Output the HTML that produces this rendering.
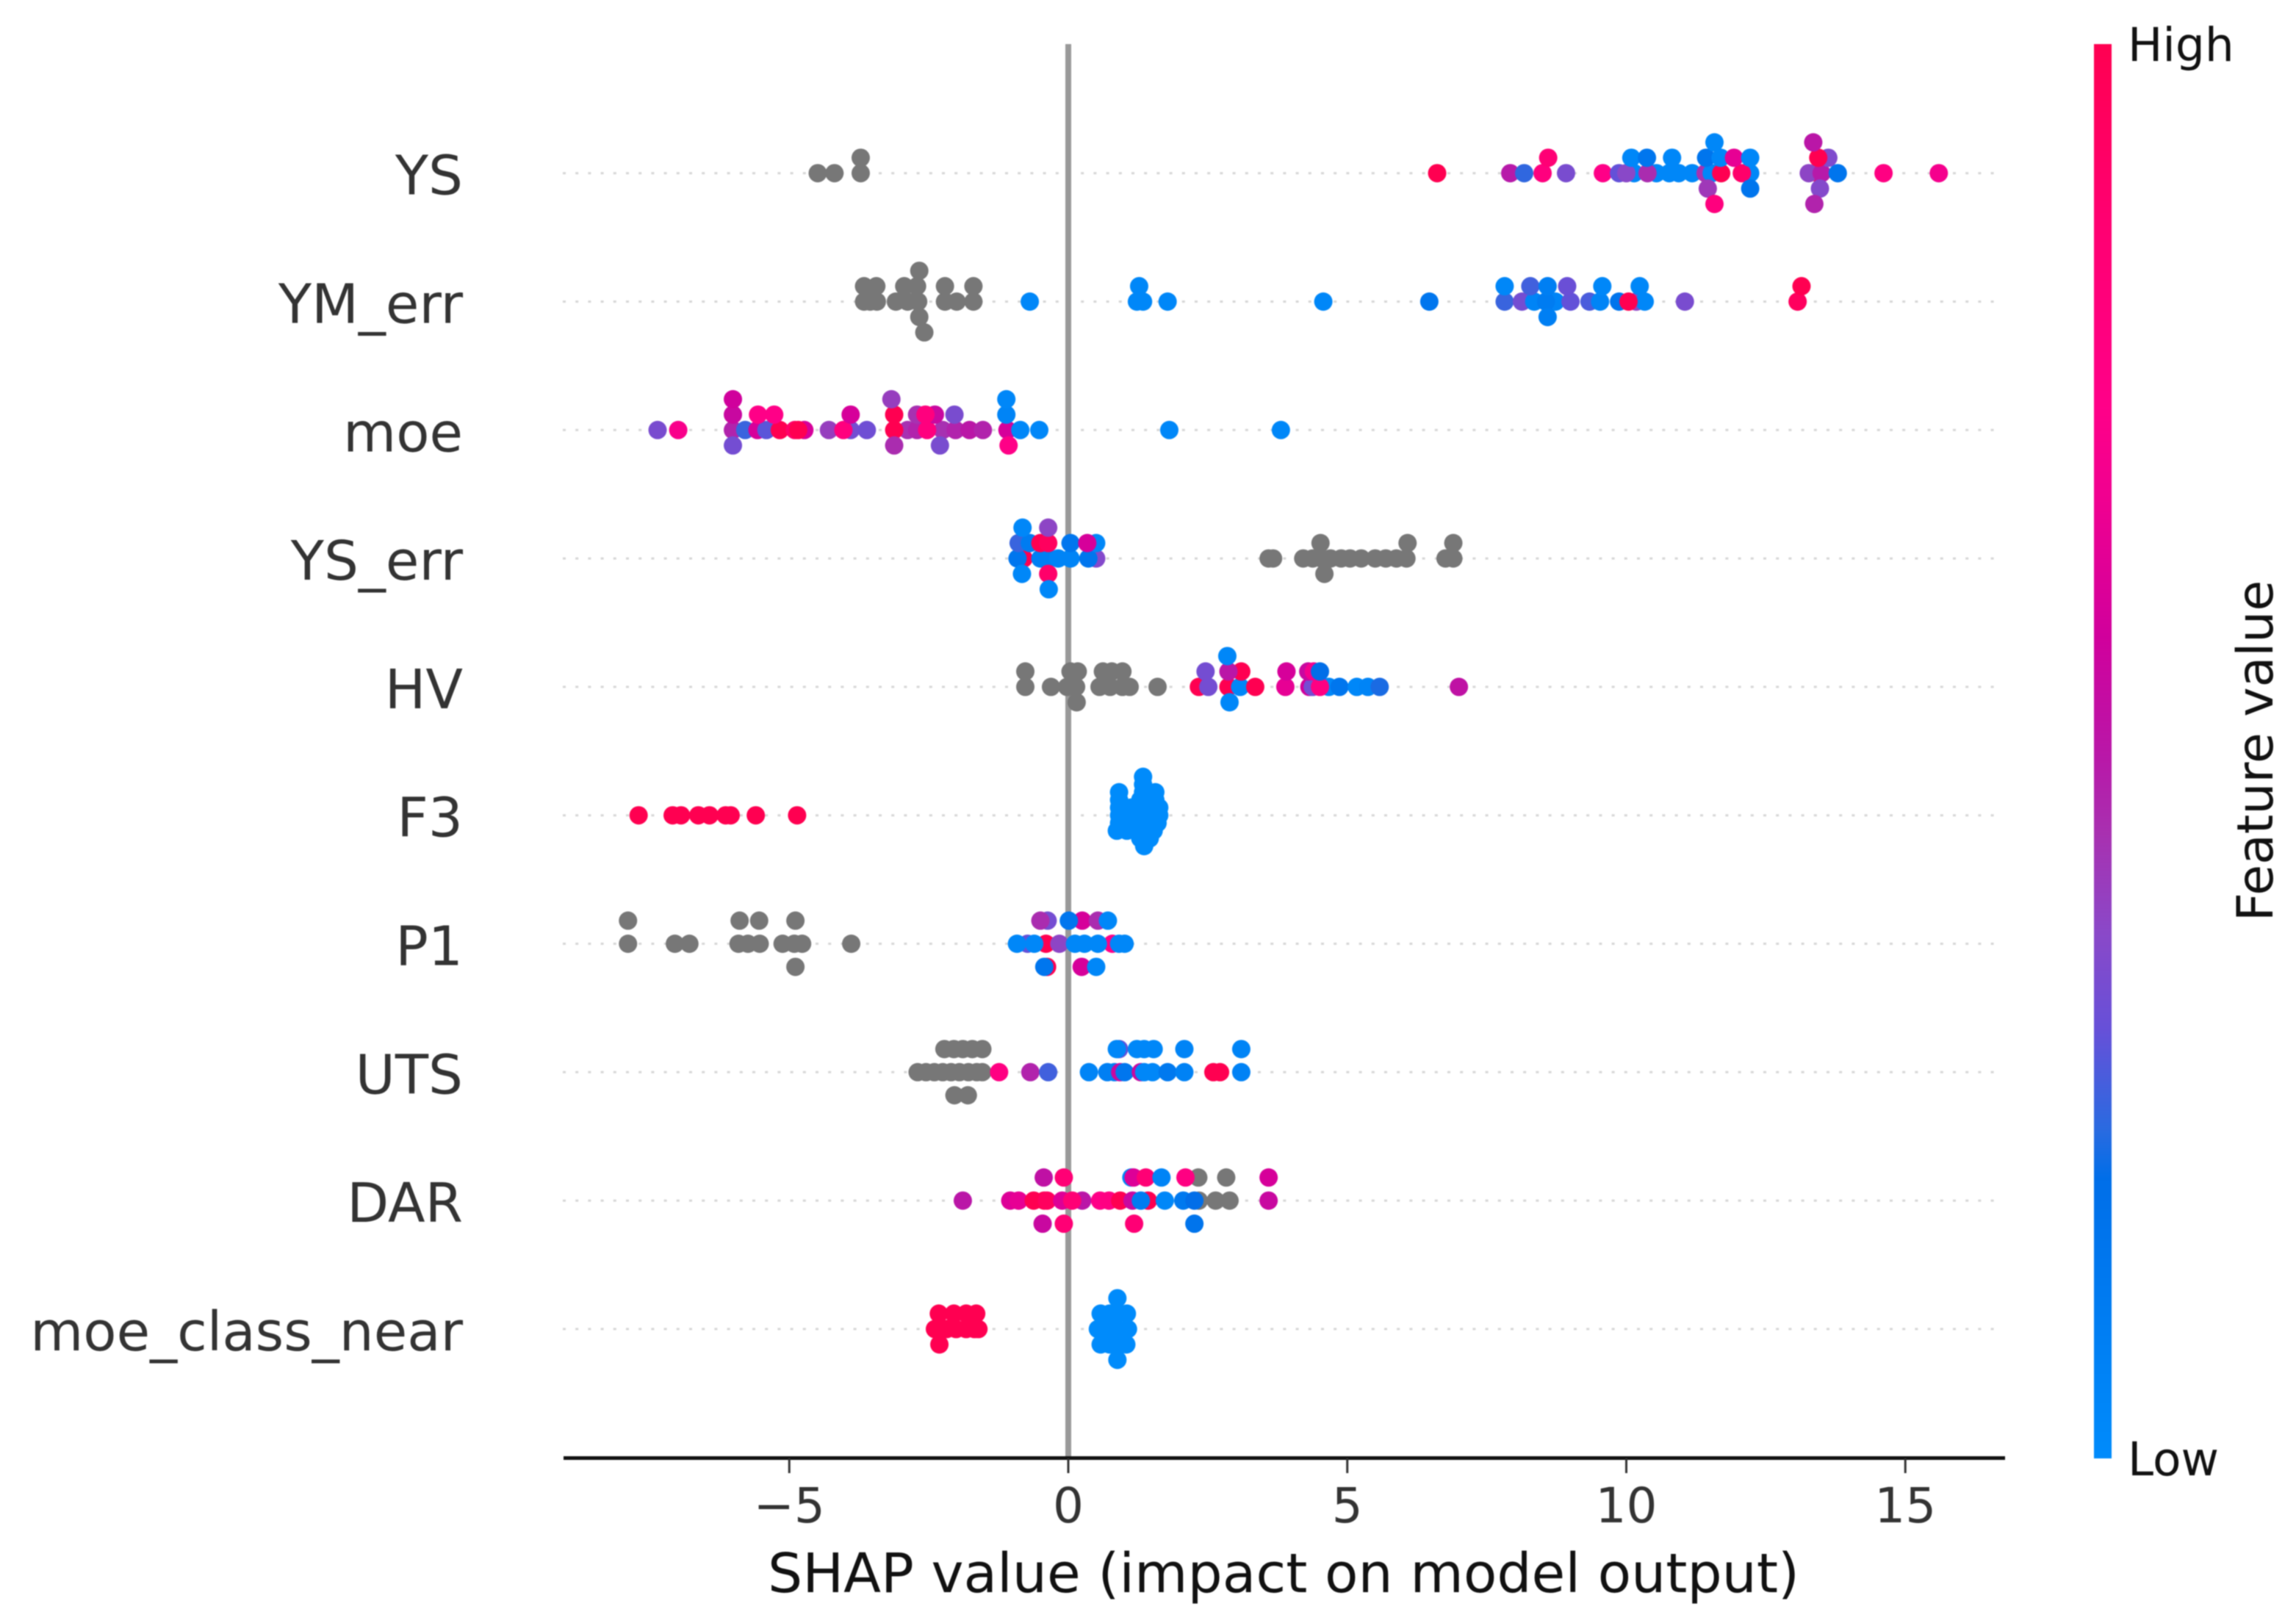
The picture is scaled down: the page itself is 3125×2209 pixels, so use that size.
<!DOCTYPE html>
<html lang="en">
<head>
<meta charset="utf-8">
<title>SHAP summary plot</title>
<style>
html,body{margin:0;padding:0;background:#fff}
svg{display:block;font-family:"DejaVu Sans","Liberation Sans",sans-serif;filter:blur(0.9px)}
</style>
</head>
<body>
<svg id="chart" xmlns="http://www.w3.org/2000/svg" width="3125" height="2209" viewBox="0 0 3125 2209">
  <defs>
    <linearGradient id="cbar" x1="0" y1="1" x2="0" y2="0"></linearGradient>
  </defs>
  <rect x="0" y="0" width="3125" height="2209" fill="#fff"/>
  <g id="rowLines"></g>
  <line id="zeroLine" stroke="#999" stroke-width="8"/>
  <g id="dots"></g>
  <g id="rowLabels"></g>
  <line id="xAxis" stroke="#111" stroke-width="5"/>
  <g id="xTicks"></g>
  <text x="1747" y="2167" font-size="74.4" text-anchor="middle" fill="#111">SHAP value (impact on model output)</text>
  <rect id="colorbar" x="2850" y="60" width="24" height="1925" fill="url(#cbar)"/>
  <text x="2896" y="83" font-size="63" fill="#111">High</text>
  <text x="2896" y="2008" font-size="63" fill="#111">Low</text>
  <text x="0" y="0" font-size="68" text-anchor="middle" fill="#111" transform="translate(3093 1022) rotate(-90)">Feature value</text>
</svg>
<script>
const featureNames = ["YS","YM_err","moe","YS_err","HV","F3","P1","UTS","DAR","moe_class_near"];
const tickValues = [-5,0,5,10,15];
const tickLabels = ["\u22125","0","5","10","15"];
const maxLayers = [2,2,2,2,2,5,1,1,1,2];
const colormapPositions = [0,0.198,0.233,0.303,0.372,0.442,0.494,0.58,0.679,0.745,0.878,1];
const colormapColors = ["#008bfb","#006ee8","#2a6ae0","#6650d8","#8a48c8","#a830b0","#b818a8","#d0009c","#f00090","#ff0088","#ff0070","#ff0051"];

/* each point: [SHAP value, swarm layer, feature value 0..1 or null when missing] */
const pointsYS = [
[-4.49,0,null],[-4.19,0,null],[-3.72,0,null],[-3.72,1,null],
[6.61,0,1],[7.92,0,.49],[8.17,0,.24],[8.50,0,.8],[8.92,0,.34],[9.58,0,.75],[10.14,0,.03],[9.87,0,.3],[10.0,0,.37],[10.54,0,.03],[10.38,0,.45],[10.77,0,.03],[10.94,0,.03],[11.18,0,.03],[11.42,0,.44],[11.53,0,.03],[12.22,0,.03],[11.70,0,1],[12.07,0,.9],[13.43,0,1],[13.27,0,.38],[13.50,0,.49],[13.79,0,.15],[14.61,0,.78],[15.60,0,.7],
[8.60,1,.85],[10.09,1,.03],[10.37,1,.14],[10.82,1,.03],[11.43,1,.15],[11.69,1,.03],[11.93,1,.65],[12.22,1,.03],[13.62,1,.35],[13.44,1,1],
[11.58,2,.03],[13.35,2,.5],
[11.46,-1,.42],[12.22,-1,.15],[13.47,-1,.36],
[11.58,-2,.8],[13.37,-2,.47]
];
const pointsYMerr = [
[-3.66,0,null],[-3.55,0,null],[-3.43,0,null],[-3.09,0,null],[-2.88,0,null],[-2.69,0,null],[-2.21,0,null],[-2.00,0,null],[-1.70,0,null],
[-3.66,1,null],[-3.44,1,null],[-2.94,1,null],[-2.71,1,null],[-2.21,1,null],[-1.70,1,null],
[-2.67,2,null],[-2.67,-1,null],[-2.58,-2,null],
[-0.69,0,.03],[1.23,0,.03],[1.34,0,.03],[1.78,0,.03],[1.27,1,.03],
[4.57,0,.03],[6.47,0,.14],[7.82,0,.25],[8.13,0,.33],[8.35,0,.05],[8.73,0,.05],[8.56,0,.1],[9.0,0,.3],[9.34,0,.27],[9.53,0,.05],[9.87,0,.16],[10.18,0,.38],[10.33,0,.03],[10.04,0,1],[11.05,0,.34],[13.07,0,.95],
[7.82,1,.03],[8.28,1,.26],[8.59,1,.08],[8.94,1,.31],[9.57,1,.03],[10.24,1,.03],[13.14,1,1],
[8.59,-1,.08]
];
const pointsMoe = [
[-7.36,0,.34],[-6.99,0,.72],[-6.01,0,.47],[-5.79,0,.25],[-5.57,0,.6],[-5.41,0,.29],[-5.17,0,1],[-4.73,0,.6],[-4.90,0,.9],[-4.84,0,1],[-4.29,0,.4],[-3.90,0,.33],[-4.03,0,.8],[-3.61,0,.32],[-2.88,0,.44],[-2.71,0,.47],[-3.12,0,1],[-2.25,0,.44],[-2.53,0,.8],[-2.02,0,.47],[-1.77,0,.5],[-1.53,0,.47],[-1.09,0,.6],[-0.86,0,.03],[-0.52,0,.03],[1.81,0,.03],[3.81,0,.03],
[-6.01,1,.55],[-5.56,1,.75],[-5.27,1,.75],[-3.90,1,.6],[-3.12,1,1],[-2.71,1,.44],[-2.39,1,.55],[-2.56,1,.8],[-2.04,1,.34],[-1.11,1,.05],
[-6.01,2,.58],[-3.17,2,.4],[-1.11,2,.03],
[-6.01,-1,.33],[-3.12,-1,.45],[-2.30,-1,.34],[-1.07,-1,.75]
];
const pointsYSerr = [
[3.59,0,null],[3.67,0,null],[4.21,0,null],[4.38,0,null],[4.54,0,null],[4.70,0,null],[4.89,0,null],[5.05,0,null],[5.25,0,null],[5.50,0,null],[5.69,0,null],[5.88,0,null],[6.06,0,null],[6.76,0,null],[6.90,0,null],
[4.52,1,null],[6.08,1,null],[6.90,1,null],[4.59,-1,null],
[-0.80,0,1],[-0.91,0,.14],[-0.5,0,.08],[-0.36,0,.08],[-0.18,0,.05],[0.04,0,.05],[0.50,0,.36],[0.36,0,.14],
[-0.89,1,.25],[-0.69,1,.1],[-0.50,1,1],[-0.36,1,.95],[0.04,1,.14],[0.50,1,.03],[0.34,1,.6],
[-0.82,2,.03],[-0.36,2,.38],
[-0.83,-1,.03],[-0.36,-1,.9],
[-0.35,-2,.03]
];
const pointsHV = [
[-0.77,0,null],[-0.31,0,null],[-0.02,0,null],[0.14,0,null],[0.56,0,null],[0.75,0,null],[0.97,0,null],[1.10,0,null],[1.60,0,null],
[-0.77,1,null],[0.04,1,null],[0.17,1,null],[0.62,1,null],[0.78,1,null],[0.97,1,null],[0.15,-1,null],
[2.34,0,1],[2.51,0,.33],[2.87,0,1],[3.08,0,.03],[3.35,0,1],[3.89,0,.65],[4.32,0,.58],[4.38,0,.33],[4.67,0,.03],[4.51,0,.78],[4.86,0,.14],[5.17,0,.03],[5.37,0,.05],[5.58,0,.22],[7.0,0,.52],
[2.46,1,.33],[3.10,1,1],[2.87,1,.5],[3.91,1,.6],[4.30,1,.55],[4.40,1,.7],[4.51,1,.2],
[2.85,2,.03],[2.89,-1,.03]
];
const pointsF3 = [
[-7.70,0,1],[-7.09,0,1],[-6.94,0,1],[-6.63,0,1],[-6.43,0,1],[-6.14,0,1],[-6.05,0,1],[-5.60,0,1],[-4.86,0,1],
[1.34,5,0],[1.34,4,0],
[0.91,3,0],[1.34,3,0],[1.56,3,0],
[0.91,2,0],[1.29,2,0],[1.56,2,0],
[0.91,1,0],[1.12,1,0],[1.32,1,0],[1.63,1,0],
[0.91,0,0],[1.08,0,0],[1.29,0,0],[1.49,0,0],[1.63,0,0],
[0.91,-1,0],[1.12,-1,0],[1.36,-1,0],[1.60,-1,0],
[0.87,-2,0],[1.05,-2,0],[1.29,-2,0],[1.53,-2,0],
[1.29,-3,0],[1.46,-3,0],
[1.36,-4,0]
];
const pointsP1 = [
[-7.89,0,null],[-7.05,0,null],[-6.79,0,null],[-5.91,0,null],[-5.74,0,null],[-5.53,0,null],[-5.12,0,null],[-4.91,0,null],[-4.77,0,null],[-3.89,0,null],
[-7.89,1,null],[-5.89,1,null],[-5.54,1,null],[-4.89,1,null],[-4.89,-1,null],
[-0.73,0,.3],[-0.40,0,1],[-0.16,0,.38],[-0.92,0,.03],[-0.61,0,.03],[0.12,0,.03],[0.29,0,.03],[0.79,0,.75],[0.53,0,.03],[0.91,0,.03],[1.01,0,.03],
[-0.37,1,.33],[-0.50,1,.45],[0.25,1,.6],[0.01,1,.14],[0.53,1,.45],[0.71,1,.03],
[-0.38,-1,1],[-0.43,-1,.14],[0.24,-1,.6],[0.50,-1,.03]
];
const pointsUTS = [
[-2.70,0,null],[-2.55,0,null],[-2.40,0,null],[-2.25,0,null],[-2.10,0,null],[-1.95,0,null],[-1.79,0,null],[-1.64,0,null],[-1.54,0,null],
[-2.22,1,null],[-2.05,1,null],[-1.89,1,null],[-1.72,1,null],[-1.54,1,null],[-2.04,-1,null],[-1.80,-1,null],
[-1.24,0,.78],[-0.68,0,.47],[-0.36,0,.26],[0.37,0,.05],[0.70,0,.08],[0.83,0,.08],[0.93,0,.55],[1.01,0,.14],[1.30,0,.55],[1.36,0,.03],[1.51,0,.03],[1.78,0,.12],[2.08,0,.06],[2.60,0,1],[2.72,0,1],[3.10,0,.06],
[0.91,1,.3],[0.87,1,.03],[1.23,1,.03],[1.36,1,.03],[1.53,1,.03],[2.08,1,.05],[3.10,1,.05]
];
const pointsDAR = [
[2.34,0,null],[2.64,0,null],[2.89,0,null],[2.33,1,null],[2.83,1,null],
[-1.89,0,.5],[-1.04,0,.62],[-0.89,0,.65],[-0.62,0,1],[-0.43,0,1],[-0.38,0,.95],[0.25,0,.5],[-0.11,0,.62],[0.07,0,.85],[0.57,0,.75],[0.73,0,.78],[0.93,0,1],[1.15,0,.55],[1.43,0,1],[1.30,0,.1],[1.73,0,.03],[2.06,0,.12],[2.26,0,.2],[3.59,0,.55],
[-0.44,1,.52],[-0.08,1,.85],[1.13,1,.03],[1.17,1,.62],[1.39,1,.85],[1.67,1,.05],[2.10,1,.78],[3.59,1,.6],
[-0.46,-1,.55],[-0.08,-1,.85],[1.18,-1,.85],[2.26,-1,.16]
];
const pointsMoeClass = [
[-2.39,0,1],[-2.18,0,1],[-2.01,0,1],[-1.83,0,1],[-1.68,0,1],[-1.61,0,1],
[-2.32,1,1],[-2.05,1,1],[-1.83,1,1],[-1.65,1,1],[-2.31,-1,1],
[0.53,0,0],[0.69,0,0],[0.87,0,0],[1.07,0,0],
[0.58,1,0],[0.74,1,0],[0.89,1,0],[1.05,1,0],[0.88,2,0],
[0.58,-1,0],[0.74,-1,0],[0.89,-1,0],[1.04,-1,0],[0.88,-2,0]
];
const allRows = [pointsYS,pointsYMerr,pointsMoe,pointsYSerr,pointsHV,pointsF3,pointsP1,pointsUTS,pointsDAR,pointsMoeClass];

const SVGNS = "http://www.w3.org/2000/svg";
function xScale(v){ return 1454 + 75.95*v; }
function rowY(i){ return 235.7 + 174.8*i; }
function layerY(i, layer){ return rowY(i) - layer*62.9/(maxLayers[i]+1); }
function hexToRgb(h){ return [parseInt(h.slice(1,3),16),parseInt(h.slice(3,5),16),parseInt(h.slice(5,7),16)]; }
function colorFor(t){
  if(t===null) return "#777777";
  for(let k=1;k<colormapPositions.length;k++){
    if(t<=colormapPositions[k]){
      const f=(t-colormapPositions[k-1])/(colormapPositions[k]-colormapPositions[k-1]);
      const a=hexToRgb(colormapColors[k-1]), b=hexToRgb(colormapColors[k]);
      return "rgb("+a.map(function(c,j){return Math.round(c+(b[j]-c)*f);}).join(",")+")";
    }
  }
  return colormapColors[colormapColors.length-1];
}
function make(tag, attrs, parent){
  const el=document.createElementNS(SVGNS,tag);
  for(const k in attrs){ el.setAttribute(k,attrs[k]); }
  parent.appendChild(el);
  return el;
}

const grad=document.getElementById("cbar");
colormapPositions.forEach(function(p,k){
  make("stop",{offset:p,"stop-color":colormapColors[k]},grad);
});

const zero=document.getElementById("zeroLine");
zero.setAttribute("x1",xScale(0)); zero.setAttribute("x2",xScale(0));
zero.setAttribute("y1",60); zero.setAttribute("y2",1984);

const axis=document.getElementById("xAxis");
axis.setAttribute("x1",767); axis.setAttribute("x2",2729);
axis.setAttribute("y1",1984.5); axis.setAttribute("y2",1984.5);

const linesG=document.getElementById("rowLines");
const labelsG=document.getElementById("rowLabels");
const dotsG=document.getElementById("dots");
featureNames.forEach(function(name,i){
  const gl=make("line",{x1:766,x2:2718,y1:rowY(i),y2:rowY(i),stroke:"#d6d6d6","stroke-width":3,"stroke-dasharray":"4 13.2"},linesG);
  
  
  const lb=make("text",{x:630,y:rowY(i)+29,"font-size":74,"text-anchor":"end",fill:"#333"},labelsG);
  lb.textContent=name;
  
  
  allRows[i].forEach(function(p){
    const c=make("circle",{cx:xScale(p[0]),cy:layerY(i,p[1]),r:12.5,fill:colorFor(p[2])},dotsG);
    
    
  });
});

const ticksG=document.getElementById("xTicks");
tickValues.forEach(function(v,k){
  const t=make("line",{x1:xScale(v),x2:xScale(v),y1:1985,y2:2005,stroke:"#333","stroke-width":3},ticksG);
  
  
  const l=make("text",{x:xScale(v),y:2072,"font-size":66,"text-anchor":"middle",fill:"#333"},ticksG);
  l.textContent=tickLabels[k];
  
  
});
</script>
</body>
</html>
